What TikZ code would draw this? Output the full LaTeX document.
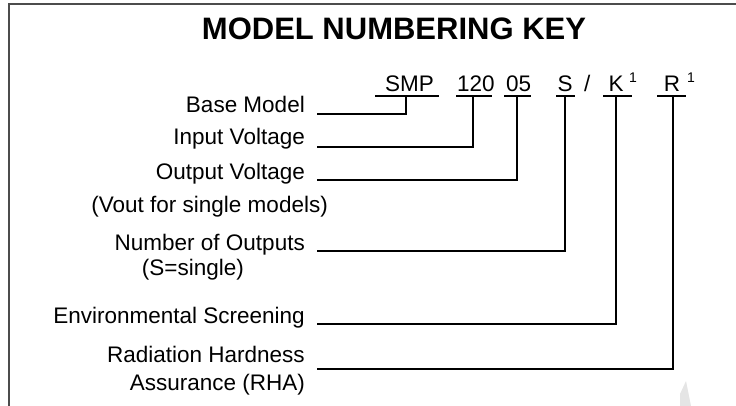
\documentclass[tikz,border=0pt]{standalone}
\usepackage{fontspec}
\setmainfont{Liberation Sans}
\begin{document}
\begin{tikzpicture}[x=1pt,y=-1pt,
  lbl/.style={inner sep=0pt,anchor=base east,font=\fontsize{22.5}{26}\selectfont},
  code/.style={inner sep=0pt,anchor=base west,font=\fontsize{22.5}{26}\selectfont},
  codec/.style={inner sep=0pt,anchor=base,font=\fontsize{22.5}{26}\selectfont},
  sup/.style={inner sep=0pt,anchor=base west,font=\fontsize{14}{16}\selectfont},
  conn/.style={line width=1.9pt,line cap=butt,line join=miter,black},
  uline/.style={line width=1.9pt,black},
  frameline/.style={line width=1.6pt,draw=black!70}]
\useasboundingbox (0,0) rectangle (736,406);
% frame
\draw[frameline] (9,406) -- (9,4) -- (736,4);
% watermark fragment
\fill[black!10] (680,406) -- (680,394) -- (686,381) -- (691,406) -- cycle;
% title
\node[inner sep=0pt,anchor=base,font=\fontsize{31}{36}\bfseries] (title) at (394,40) {MODEL NUMBERING KEY};
% code row
\node[code] (smp) at (385,92) {SMP};
\node[code] (c120) at (457,92) {120};
\node[code] (c05) at (506,92) {05};
\node[codec] (cs) at (565,92) {S};
\node[code] (slash) at (584,92) {/};
\node[codec] (ck) at (616,92) {K};
\node[sup] (k1) at (629,83) {1};
\node[codec] (cr) at (672,92) {R};
\node[sup] (r1) at (687,83) {1};
% labels
\node[lbl] (base) at (305,113) {Base Model};
\node[lbl] (input) at (305,145) {Input Voltage};
\node[lbl] (output) at (305,180) {Output Voltage};
\node[lbl] (vout) at (328,212) {(Vout for single models)};
\node[lbl] (nout) at (305,250) {Number of Outputs};
\node[lbl] (ssingle) at (244,275) {(S=single)};
\node[lbl] (env) at (305,323) {Environmental Screening};
\node[lbl] (rad) at (305,362) {Radiation Hardness};
\node[lbl] (rha) at (305,390) {Assurance (RHA)};
% underline coordinates
\coordinate (u1a) at (375,96); \coordinate (u1b) at (439,96); \coordinate (u1) at (406,96);
\coordinate (u2a) at (456,96); \coordinate (u2b) at (492,96); \coordinate (u2) at (473,96);
\coordinate (u3a) at (504,96); \coordinate (u3b) at (531,96); \coordinate (u3) at (517,96);
\coordinate (u4a) at (556,96); \coordinate (u4b) at (575,96); \coordinate (u4) at (565,96);
\coordinate (u5a) at (603,96); \coordinate (u5b) at (632,96); \coordinate (u5) at (616,96);
\coordinate (u6a) at (657,96); \coordinate (u6b) at (686,96); \coordinate (u6) at (673,96);
% line starts
\coordinate (s1) at (317,114);
\coordinate (s2) at (317,147);
\coordinate (s3) at (317,180);
\coordinate (s4) at (317,251);
\coordinate (s5) at (317,324);
\coordinate (s6) at (317,369);
% underlines
\foreach \i in {1,...,6} {\draw[uline] (u\i a) -- (u\i b);}
% connectors
\foreach \i in {1,...,6} {\draw[conn] (s\i) -| (u\i);}
\end{tikzpicture}
\end{document}
